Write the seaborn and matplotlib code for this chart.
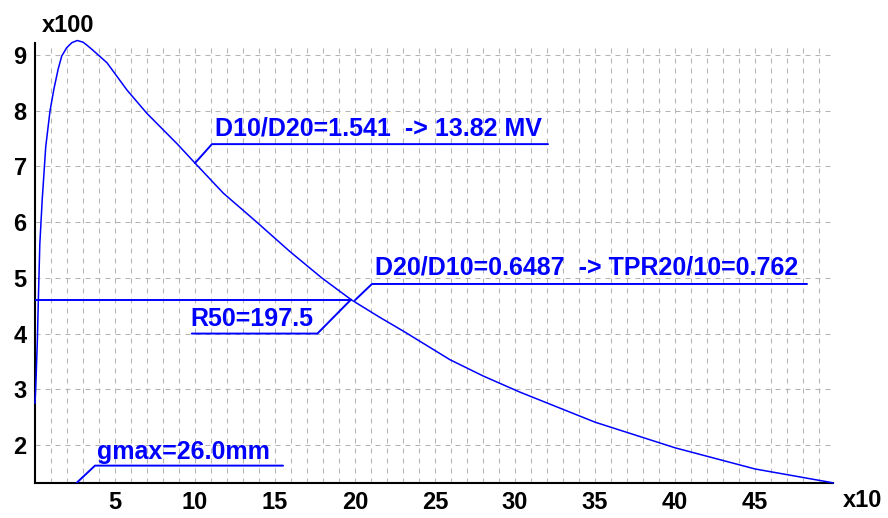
import matplotlib
matplotlib.use("Agg")
import matplotlib.pyplot as plt
from matplotlib import font_manager
import seaborn as sns
import pandas as pd

# ---- data (depth x10 mm, dose x100) ----
depth = [0.0, 0.05, 0.15, 0.2, 0.3, 0.45, 0.52, 0.67, 0.94, 1.19, 1.45, 1.67,
         1.98, 2.3, 2.64, 3.0, 3.23, 3.6, 4.5, 5.75, 7.0, 8.9, 10.0, 11.77,
         13.86, 15.94, 17.92, 19.75, 21.5, 23.1, 25.94, 28.0, 30.3, 35.0,
         40.0, 45.0, 49.9]
dose = [2.75, 3.05, 3.9, 4.5, 5.6, 6.4, 6.7, 7.35, 8.0, 8.4, 8.75, 8.98,
        9.13, 9.22, 9.26, 9.23, 9.18, 9.09, 8.86, 8.37, 7.95, 7.4, 7.06, 6.52,
        6.0, 5.47, 5.0, 4.61, 4.3, 4.03, 3.53, 3.24, 2.95, 2.41,
        1.95, 1.57, 1.32]

x_ticks = [5, 10, 15, 20, 25, 30, 35, 40, 45]
y_ticks = [2, 3, 4, 5, 6, 7, 8, 9]

d10_point = (10.0, 7.06)
d20_point = (20.0, 4.60)
r50_point = (19.75, 4.61)
gmax_point = (2.6, 1.32)

label_d10 = "D10/D20=1.541  -> 13.82 MV"
label_d20 = "D20/D10=0.6487  -> TPR20/10=0.762"
label_r50 = "R50=197.5"
label_gmax = "gmax=26.0mm"

df = pd.DataFrame({"depth": depth, "dose": dose})

sns.set_style("white")
plt.rcParams["font.family"] = ["Liberation Sans", "DejaVu Sans"]

BLUE = "#0000ff"
fig = plt.figure(figsize=(8.88, 5.18), dpi=100)
ax = fig.add_axes([35 / 888, 35 / 518, 798 / 888, 440 / 518])

sns.lineplot(data=df, x="depth", y="dose", color=BLUE, lw=1.1, ax=ax,
             clip_on=False, zorder=5, sort=False)

ax.set_xlim(0, 49.875)
ax.set_ylim(1.318, 9.215)
ax.set_xticks(x_ticks)
ax.set_xticks([i for i in range(1, 50)], minor=True)
ax.set_yticks(y_ticks)
ax.set_xlabel("")
ax.set_ylabel("")

grid_kw = dict(color="#b4b4b4", lw=0.75, linestyle=(0, (4.8, 4.8)))
ax.grid(True, axis="x", which="both", **grid_kw)
ax.grid(True, axis="y", which="major", **grid_kw)
ax.set_axisbelow(True)

for s in ["top", "right"]:
    ax.spines[s].set_visible(False)
for s in ["left", "bottom"]:
    ax.spines[s].set_color("black")
    ax.spines[s].set_linewidth(1.5)

ax.tick_params(axis="both", which="major", direction="out", length=3,
               width=1, color="black", pad=3)
ax.tick_params(axis="x", which="minor", length=0)
for lab in ax.get_xticklabels() + ax.get_yticklabels():
    lab.set_fontweight("bold")
    lab.set_fontsize(17)
    lab.set_color("black")

ann_kw = dict(color=BLUE, fontsize=18, fontweight="bold", va="baseline")
lw_ann = 1.4

# D10 annotation
x0, y0 = d10_point
ax.plot([x0, x0 + 1.06, x0 + 22.06], [y0, 7.40, 7.40], color=BLUE, lw=lw_ann, zorder=6)
ax.text(x0 + 1.25, 7.56, label_d10, ha="left", **ann_kw)

# D20 annotation
x0, y0 = d20_point
ax.plot([x0, x0 + 1.06, 48.25], [y0, 4.89, 4.89], color=BLUE, lw=lw_ann, zorder=6)
ax.text(x0 + 1.25, 5.066, label_d20, ha="left", **ann_kw)

# R50 annotation
x0, y0 = r50_point
ax.plot([0, x0], [y0, y0], color=BLUE, lw=lw_ann, zorder=6)
ax.plot([x0, x0 - 2.1, 9.8], [y0, 4.0, 4.0], color=BLUE, lw=lw_ann, zorder=6)
ax.text(17.4, 4.14, label_r50, ha="right", **ann_kw)

# gmax annotation
x0, y0 = gmax_point
ax.plot([x0, x0 + 1.15, 15.5], [y0, 1.63, 1.63], color=BLUE, lw=lw_ann, zorder=6)
ax.text(3.9, 1.75, label_gmax, ha="left", **ann_kw)

# axis multipliers
fig.text(42 / 888, 1 - 32 / 518, "x100", fontsize=17, fontweight="bold",
         color="black", ha="left", va="baseline")
fig.text(843 / 888, 1 - 507 / 518, "x10", fontsize=17, fontweight="bold",
         color="black", ha="left", va="baseline")

fig.savefig("out.png", dpi=100, facecolor="white")
